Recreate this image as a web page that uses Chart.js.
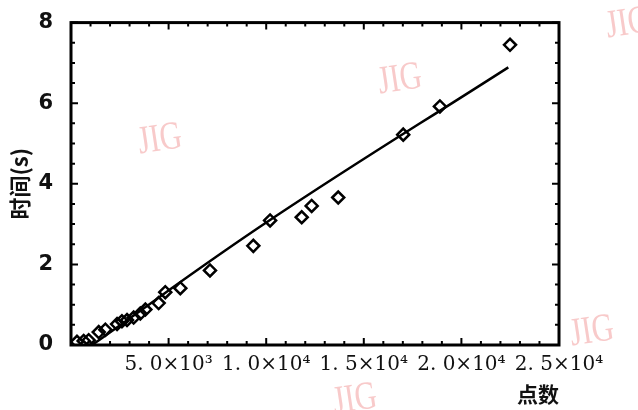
<!DOCTYPE html>
<html>
<head>
<meta charset="utf-8">
<script src="https://cdn.jsdelivr.net/npm/chart.js@4/dist/chart.umd.min.js"></script>
<style>
    html, body { margin: 0; padding: 0; background: #fff; }
    #wrap { width: 638px; height: 410px; }
</style>
</head>
<body>
<div id="wrap"><canvas id="chart" width="638" height="410"></canvas></div>
<script>
// measured points (点数, 时间 s)
const pointX = [307, 650, 907, 1420, 1760, 2360, 2610, 2870, 3210, 3550, 3810, 4490, 4830, 5600, 7120, 9340, 10200, 11820, 12330, 13690, 17020, 18900, 22490];
const pointY = [0.08, 0.10, 0.12, 0.32, 0.38, 0.52, 0.59, 0.62, 0.68, 0.78, 0.88, 1.04, 1.31, 1.41, 1.85, 2.46, 3.09, 3.17, 3.45, 3.66, 5.22, 5.92, 7.45];

// fitted line
const fitX = [1076, 10195, 22403];
const fitY = [0, 3.10, 6.89];

// tick labels
const xTickValues = [5000, 10000, 15000, 20000, 25000];
const xTickLabels = ['5. 0×10³', '1. 0×10⁴', '1. 5×10⁴', '2. 0×10⁴', '2. 5×10⁴'];
const yTickValues = [0, 2, 4, 6, 8];

const watermarks = ['JIG', 'JIG', 'JIG', 'JIG', 'JIG'];

function toXY(xs, ys) {
    let out = [];
    for (let i = 0; i < xs.length; i++) {
        out.push({x: xs[i], y: ys[i]});
    }
    return out;
}

// box + inward ticks, drawn from the scales
const frame = {
    id: 'frame',
    beforeDatasetsDraw(chart) {
        const ctx = chart.ctx;
        const a = chart.chartArea;
        const xs = chart.scales.x, ys = chart.scales.y;
        ctx.save();
        ctx.strokeStyle = '#000';
        ctx.lineWidth = 2;
        ctx.beginPath();
        for (let v = 0; v <= 25000; v += 1000) {
            const px = xs.getPixelForValue(v);
            const len = v % 5000 === 0 ? 7 : 4;
            ctx.moveTo(px, a.bottom); ctx.lineTo(px, a.bottom - len);
            ctx.moveTo(px, a.top); ctx.lineTo(px, a.top + len);
        }
        for (let v = 0; v <= 8; v += 0.5) {
            const py = ys.getPixelForValue(v);
            const len = v % 2 === 0 ? 7 : 4;
            ctx.moveTo(a.left, py); ctx.lineTo(a.left + len, py);
            ctx.moveTo(a.right, py); ctx.lineTo(a.right - len, py);
        }
        ctx.stroke();
        ctx.lineWidth = 3;
        ctx.strokeRect(a.left, a.top, a.right - a.left, a.bottom - a.top);
        ctx.restore();
    },
    afterDraw(chart) {
        // faint JIG watermarks
        const ctx = chart.ctx;
        const spots = [[160, 140], [400, 80], [628, 24], [592, 332], [355, 400]];
        ctx.save();
        ctx.fillStyle = 'rgba(242, 150, 150, 0.5)';
        ctx.font = '36px "Liberation Serif"';
        ctx.textAlign = 'center';
        ctx.textBaseline = 'middle';
        spots.forEach((s, i) => {
            ctx.save();
            ctx.translate(s[0], s[1]);
            ctx.rotate(-0.15);
            ctx.scale(0.85, 1.1);
            ctx.fillText(watermarks[i], 0, 0);
            ctx.restore();
        });
        ctx.restore();
    }
};

(function () {
    Chart.defaults.color = '#000';
    new Chart(document.getElementById('chart'), {
        type: 'scatter',
        data: {
            datasets: [{
                label: '拟合',
                data: toXY(fitX, fitY),
                showLine: true,
                borderColor: '#000',
                borderWidth: 2.5,
                pointRadius: 0,
                tension: 0.4
            }, {
                label: '时间',
                data: toXY(pointX, pointY),
                pointStyle: 'rectRot',
                pointRadius: 6,
                pointBorderWidth: 2.5,
                pointBorderColor: '#000',
                pointBackgroundColor: 'rgba(255,255,255,0)'
            }]
        },
        options: {
            responsive: false,
            animation: false,
            layout: {padding: {left: 0, top: 13, right: 79, bottom: 0}},
            plugins: {
                legend: {display: false},
                tooltip: {enabled: false}
            },
            scales: {
                x: {
                    type: 'linear',
                    min: 0,
                    max: 25000,
                    afterFit: s => { s.height = 65; },
                    afterBuildTicks: s => { s.ticks = xTickValues.map(v => ({value: v})); },
                    grid: {display: false},
                    border: {display: false},
                    ticks: {
                        autoSkip: false,
                        maxRotation: 0,
                        padding: 0,
                        color: '#111',
                        font: {family: '"DejaVu Serif"', size: 20},
                        callback: v => xTickLabels[xTickValues.indexOf(v)] || ''
                    },
                    title: {
                        display: true,
                        text: '点数',
                        align: 'end',
                        color: '#111',
                        padding: {top: 0, bottom: 3},
                        font: {family: '"Noto Sans CJK SC"', size: 21, weight: 'bold'}
                    }
                },
                y: {
                    min: 0,
                    max: 8,
                    afterFit: s => { s.width = 71; },
                    afterBuildTicks: s => { s.ticks = yTickValues.map(v => ({value: v})); },
                    grid: {display: false},
                    border: {display: false},
                    ticks: {
                        padding: 10,
                        color: '#111',
                        font: {family: '"DejaVu Sans"', size: 21, weight: 'bold'}
                    },
                    title: {
                        display: true,
                        text: '时间(s)',
                        color: '#111',
                        padding: {top: 6, bottom: 0},
                        font: {family: '"Noto Sans CJK SC"', size: 22, weight: 'bold'}
                    }
                }
            }
        },
        plugins: [frame]
    });
})();
</script>
</body>
</html>
